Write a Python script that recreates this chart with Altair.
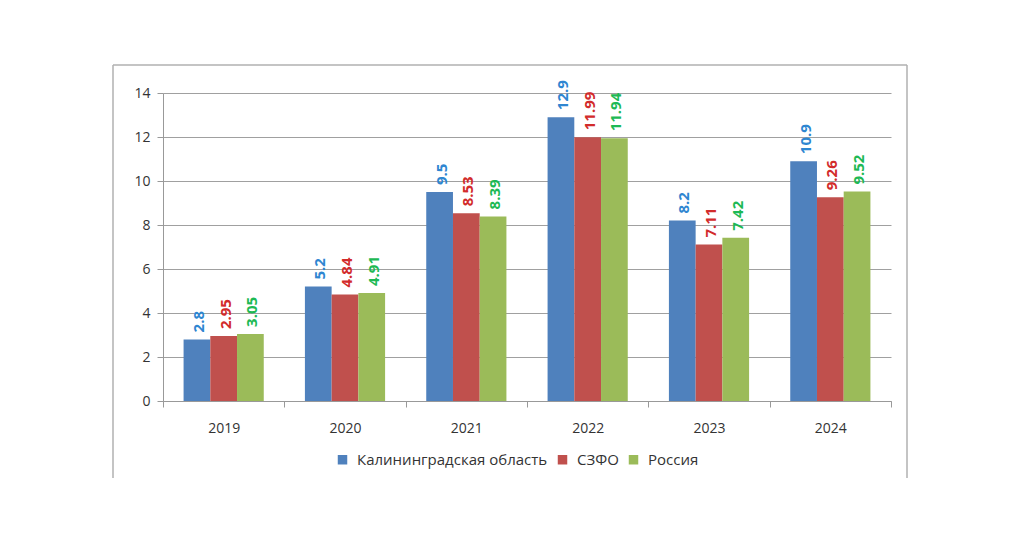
import altair as alt
import pandas as pd

years = ["2019", "2020", "2021", "2022", "2023", "2024"]
series = ["Калининградская область", "СЗФО", "Россия"]
kalin = [2.8, 5.2, 9.5, 12.9, 8.2, 10.9]
szfo = [2.95, 4.84, 8.53, 11.99, 7.11, 9.26]
russia = [3.05, 4.91, 8.39, 11.94, 7.42, 9.52]
bar_colors = ["#4F81BD", "#C0504D", "#9BBB59"]
label_colors = ["#2E86D1", "#D22B2B", "#1DB954"]

rows = []
for name, vals in zip(series, [kalin, szfo, russia]):
    for y, v in zip(years, vals):
        rows.append({"year": y, "series": name, "value": v, "label": f"{v:g}"})
df = pd.DataFrame(rows)

FONT = "Open Sans"
W, H = 728, 308

x = alt.X("year:N", title=None, sort=years,
          scale=alt.Scale(paddingInner=0, paddingOuter=0),
          axis=alt.Axis(tickBand="extent", labelAngle=0, labelFontSize=14,
                        labelColor="#333333", labelPadding=14, tickSize=6,
                        tickColor="#999999", domainColor="#999999", labelFont=FONT))
xo = alt.XOffset("series:N", sort=series, scale=alt.Scale(paddingOuter=0.77, paddingInner=0))
y = alt.Y("value:Q", title=None,
          scale=alt.Scale(domain=[0, 14]),
          axis=alt.Axis(values=[0, 2, 4, 6, 8, 10, 12, 14], labelFontSize=14,
                        labelColor="#333333", tickSize=6, tickColor="#999999",
                        domainColor="#999999", gridColor="#a0a0a0", labelPadding=7,
                        labelFont=FONT))

bars = alt.Chart(df).mark_bar().encode(
    x=x, xOffset=xo, y=y,
    color=alt.Color("series:N", sort=series, title=None,
                    scale=alt.Scale(domain=series, range=bar_colors),
                    legend=alt.Legend(orient="none", legendX=172, legendY=359,
                                      direction="horizontal", symbolType="square",
                                      symbolSize=90, symbolStrokeWidth=0,
                                      labelFontSize=15, labelColor="#333333",
                                      labelFont=FONT, columnPadding=7, labelOffset=7,
                                      labelLimit=0)),
)

labels = alt.Chart(df).mark_text(angle=270, align="left", baseline="middle", dx=7, dy=2,
                                 fontSize=15, fontWeight="bold", font=FONT).encode(
    x=alt.X("year:N", sort=years), xOffset=alt.XOffset("series:N", sort=series),
    y=alt.Y("value:Q"), text="label:N",
    color=alt.Color("series:N", sort=series,
                    scale=alt.Scale(domain=series, range=label_colors), legend=None),
)

border_df = pd.DataFrame({"k": [0]})
bcol = "#b0b0b0"
left = alt.Chart(border_df).mark_rule(color=bcol, strokeWidth=1.5).encode(
    x=alt.value(-50), y=alt.value(-28), y2=alt.value(385))
right = alt.Chart(border_df).mark_rule(color=bcol, strokeWidth=1.5).encode(
    x=alt.value(744), y=alt.value(-28), y2=alt.value(385))
top = alt.Chart(border_df).mark_rule(color=bcol, strokeWidth=1.5).encode(
    x=alt.value(-50), x2=alt.value(744), y=alt.value(-28))

chart = alt.layer(bars, labels, left, right, top).resolve_scale(color="independent").properties(
    width=W, height=H,
    autosize=alt.AutoSizeParams(type="none"),
    padding={"left": 155, "top": 85, "right": 120, "bottom": 134},
).configure_view(stroke=None)

chart.save("out.html", embed_options={"renderer": "svg", "actions": False})
